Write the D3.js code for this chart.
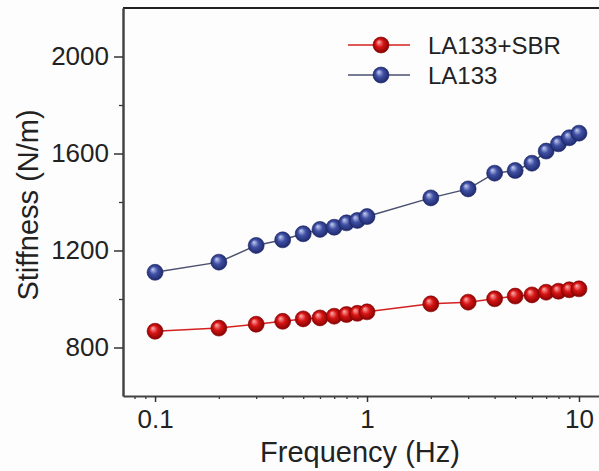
<!DOCTYPE html>
<html>
<head>
<meta charset="utf-8">
<script src="https://cdn.jsdelivr.net/npm/d3@7"></script>
<style>
  body { margin: 0; background: #fdfdfd; }
  svg { display: block; overflow: hidden; }
  text { font-family: "Liberation Sans", Arial, sans-serif; fill: #222; }
</style>
</head>
<body>
<div id="chart"></div>
<script>
// data
const frequency = [0.1, 0.2, 0.3, 0.4, 0.5, 0.6, 0.7, 0.8, 0.9, 1, 2, 3, 4, 5, 6, 7, 8, 9, 10];
const stiffnessSBR = [867, 880, 896, 908, 918, 922, 929, 936, 941, 947, 980, 987, 1001, 1012, 1017, 1028, 1032, 1038, 1042];
const stiffnessLA = [1110, 1152, 1221, 1244, 1269, 1287, 1296, 1314, 1324, 1340, 1417, 1454, 1519, 1530, 1560, 1610, 1640, 1665, 1684];
const seriesNames = ['LA133+SBR', 'LA133'];
const yTicks = [800, 1200, 1600, 2000];
const yMinorTicks = [1000, 1400, 1800];
const xTicks = [0.1, 1, 10];

const W = 599, H = 471;
const margin = {top: 8, left: 123};
const plotW = 488;
const plotH = 388;

const svg = d3.select('#chart').append('svg')
    .attr('width', W)
    .attr('height', H);

// gradients for the shiny balls
const defs = svg.append('defs');
function ball(id, light, mid, dark) {
    const grad = defs.append('radialGradient')
        .attr('id', id)
        .attr('cx', '50%').attr('cy', '50%').attr('r', '55%')
        .attr('fx', '35%').attr('fy', '30%');
    grad.append('stop').attr('offset', '0%').attr('stop-color', light);
    grad.append('stop').attr('offset', '45%').attr('stop-color', mid);
    grad.append('stop').attr('offset', '100%').attr('stop-color', dark);
}
ball('redBall', '#ffb0b0', '#d81414', '#7a0000');
ball('blueBall', '#c8d0f4', '#3f4fa3', '#1a2464');

const g = svg.append('g').attr('transform', `translate(${margin.left}, ${margin.top})`);

const x = d3.scaleLog().domain([0.0706, 14.16]).range([0, plotW]);
const y = d3.scaleLinear().domain([600, 2200]).range([plotH, 0]);

// top border of the frame
g.append('line')
    .attr('x1', 0).attr('x2', plotW)
    .attr('y1', 0).attr('y2', 0)
    .attr('stroke', '#222').attr('stroke-width', 2);

// x axis
const xMinor = [];
[0.01, 0.1, 1].forEach(dec => {
    for (let k = 2; k <= 9; k++) {
        const v = dec * k;
        if (v > 0.0706 && v < 14.16) xMinor.push(v);
    }
});
g.append('g')
    .attr('transform', `translate(0, ${plotH})`)
    .call(d3.axisBottom(x).tickValues(xMinor).tickSize(3).tickFormat(''))
    .call(s => s.select('.domain').remove())
    .selectAll('line').attr('stroke', '#333').attr('stroke-width', 1.3);
const xAxis = g.append('g')
    .attr('transform', `translate(0, ${plotH})`)
    .call(d3.axisBottom(x).tickValues(xTicks).tickSize(6).tickSizeOuter(0).tickPadding(8)
        .tickFormat(d => d3.format('~g')(d)));
xAxis.select('.domain').attr('stroke', '#444').attr('stroke-width', 2);
xAxis.selectAll('line').attr('stroke', '#333').attr('stroke-width', 1.5);
xAxis.selectAll('text').style('font-size', '26px').attr('fill', '#222');

// y axis
g.append('g')
    .call(d3.axisLeft(y).tickValues(yMinorTicks).tickSize(4).tickFormat(''))
    .call(s => s.select('.domain').remove())
    .selectAll('line').attr('stroke', '#333').attr('stroke-width', 1.3);
const yAxis = g.append('g')
    .call(d3.axisLeft(y).tickValues(yTicks).tickSize(9).tickSizeOuter(0).tickPadding(5)
        .tickFormat(d3.format('d')));
yAxis.select('.domain').attr('stroke', '#444').attr('stroke-width', 2.5);
yAxis.selectAll('line').attr('stroke', '#333').attr('stroke-width', 1.5);
yAxis.selectAll('text').style('font-size', '26px').attr('fill', '#222');

// axis titles
svg.append('text')
    .attr('x', 360).attr('y', 462)
    .attr('text-anchor', 'middle')
    .style('font-size', '29px')
    .text('Frequency (Hz)');
svg.append('text')
    .attr('transform', 'translate(38, 205) rotate(-90)')
    .attr('text-anchor', 'middle')
    .style('font-size', '29px')
    .text('Stiffness (N/m)');

// series
const series = [
    {name: seriesNames[0], values: stiffnessSBR, line: '#d42020', fill: 'url(#redBall)', stroke: '#8a0000'},
    {name: seriesNames[1], values: stiffnessLA, line: '#4a5070', fill: 'url(#blueBall)', stroke: '#1a2464'}
];

const line = d3.line()
    .x((d, i) => x(frequency[i]))
    .y(d => y(d));

series.forEach(s => {
    g.append('path')
        .datum(s.values)
        .attr('d', line)
        .attr('fill', 'none')
        .attr('stroke', s.line)
        .attr('stroke-width', 1.5);
    g.selectAll(null)
        .data(s.values)
        .enter()
        .append('circle')
        .attr('cx', (d, i) => x(frequency[i]))
        .attr('cy', d => y(d))
        .attr('r', 8)
        .attr('fill', s.fill)
        .attr('stroke', s.stroke)
        .attr('stroke-width', 0.6);
});

// legend
const legend = svg.append('g').attr('transform', 'translate(348, 45)');
series.forEach((s, i) => {
    const row = legend.append('g').attr('transform', `translate(0, ${i * 30})`);
    row.append('line')
        .attr('x1', 0).attr('x2', 62)
        .attr('stroke', s.line).attr('stroke-width', 1.5);
    row.append('circle')
        .attr('cx', 33).attr('r', 8)
        .attr('fill', s.fill)
        .attr('stroke', s.stroke).attr('stroke-width', 0.6);
    row.append('text')
        .attr('x', 80).attr('y', 9)
        .style('font-size', '24px')
        .text(s.name);
});
</script>
</body>
</html>
